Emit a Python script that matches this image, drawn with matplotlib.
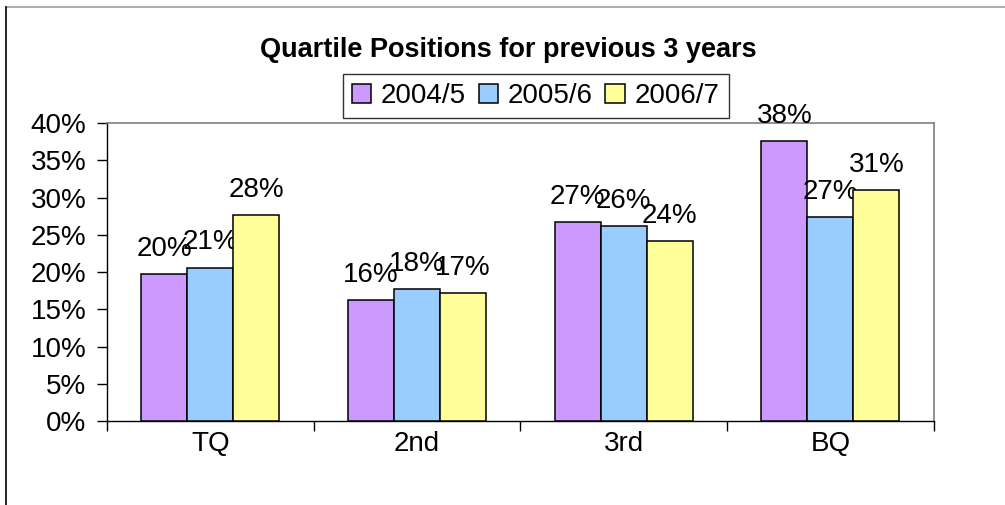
import numpy as np
import matplotlib
matplotlib.use("Agg")
import matplotlib.pyplot as plt
from matplotlib.lines import Line2D

plt.rcParams['font.family'] = ['Liberation Sans', 'DejaVu Sans']

# dados
categories = ['TQ', '2nd', '3rd', 'BQ']
years = ['2004/5', '2005/6', '2006/7']
v2004 = [19.7, 16.2, 26.7, 37.6]
v2005 = [20.6, 17.7, 26.2, 27.4]
v2006 = [27.7, 17.2, 24.2, 31.0]
colors = ['#CC99FF', '#99CCFF', '#FFFF99']

FS = 20


def plot_chart():
    fig = plt.figure(figsize=(10.05, 5.05), dpi=100)
    ax = fig.add_axes([0.1065, 0.1663, 0.8225, 0.5901])

    x = np.arange(len(categories))
    w = 0.2225
    series = [v2004, v2005, v2006]
    for i, vals in enumerate(series):
        pos = x + (i - 1) * w
        bars = ax.bar(pos, vals, width=w, color=colors[i], edgecolor='black',
                      linewidth=1.1, label=years[i], zorder=3)
        for b, v in zip(bars, vals):
            ax.annotate(f"{round(v)}%", (b.get_x() + b.get_width() / 2, v),
                        xytext=(0, 13), textcoords='offset points',
                        ha='center', va='baseline', fontsize=FS)

    ax.set_xlim(-0.5, 3.5)
    ax.set_ylim(0, 40)
    ax.set_yticks(np.arange(0, 41, 5))
    ax.set_yticklabels([f"{t}%" for t in range(0, 41, 5)])
    ax.set_xticks(x)
    ax.set_xticklabels(categories)
    ax.set_xticks(np.arange(-0.5, 4, 1), minor=True)
    ax.tick_params(axis='x', which='major', length=0, pad=7, labelsize=FS)
    ax.tick_params(axis='x', which='minor', length=7, width=1, direction='out')
    ax.tick_params(axis='y', length=7, width=1, direction='out', pad=8,
                   labelsize=FS)

    for s in ['top', 'right']:
        ax.spines[s].set_color('#808080')
        ax.spines[s].set_linewidth(1.2)
    for s in ['left', 'bottom']:
        ax.spines[s].set_color('black')
        ax.spines[s].set_linewidth(1)

    fig.text(0.506, 1 - 57 / 505, 'Quartile Positions for previous 3 years',
             ha='center', va='baseline', fontsize=19.5, fontweight='bold')

    leg = fig.legend(loc='center', bbox_to_anchor=(0.533, 0.81), ncol=3,
                     fontsize=FS, frameon=True, fancybox=False,
                     handlelength=0.7, handleheight=0.7, handletextpad=0.35,
                     columnspacing=0.45, borderpad=0.33, borderaxespad=0)
    leg.get_frame().set_edgecolor('black')
    leg.get_frame().set_linewidth(1)

    # moldura da figura
    fig.add_artist(Line2D([6 / 1005, 1], [1 - 7 / 505, 1 - 7 / 505],
                          color='#A0A0A0', lw=1.2, transform=fig.transFigure))
    fig.add_artist(Line2D([6 / 1005, 6 / 1005], [0, 1 - 7 / 505],
                          color='black', lw=1.2, transform=fig.transFigure))

    fig.savefig('out.png', dpi=100)


if __name__ == "__main__":
    plot_chart()
